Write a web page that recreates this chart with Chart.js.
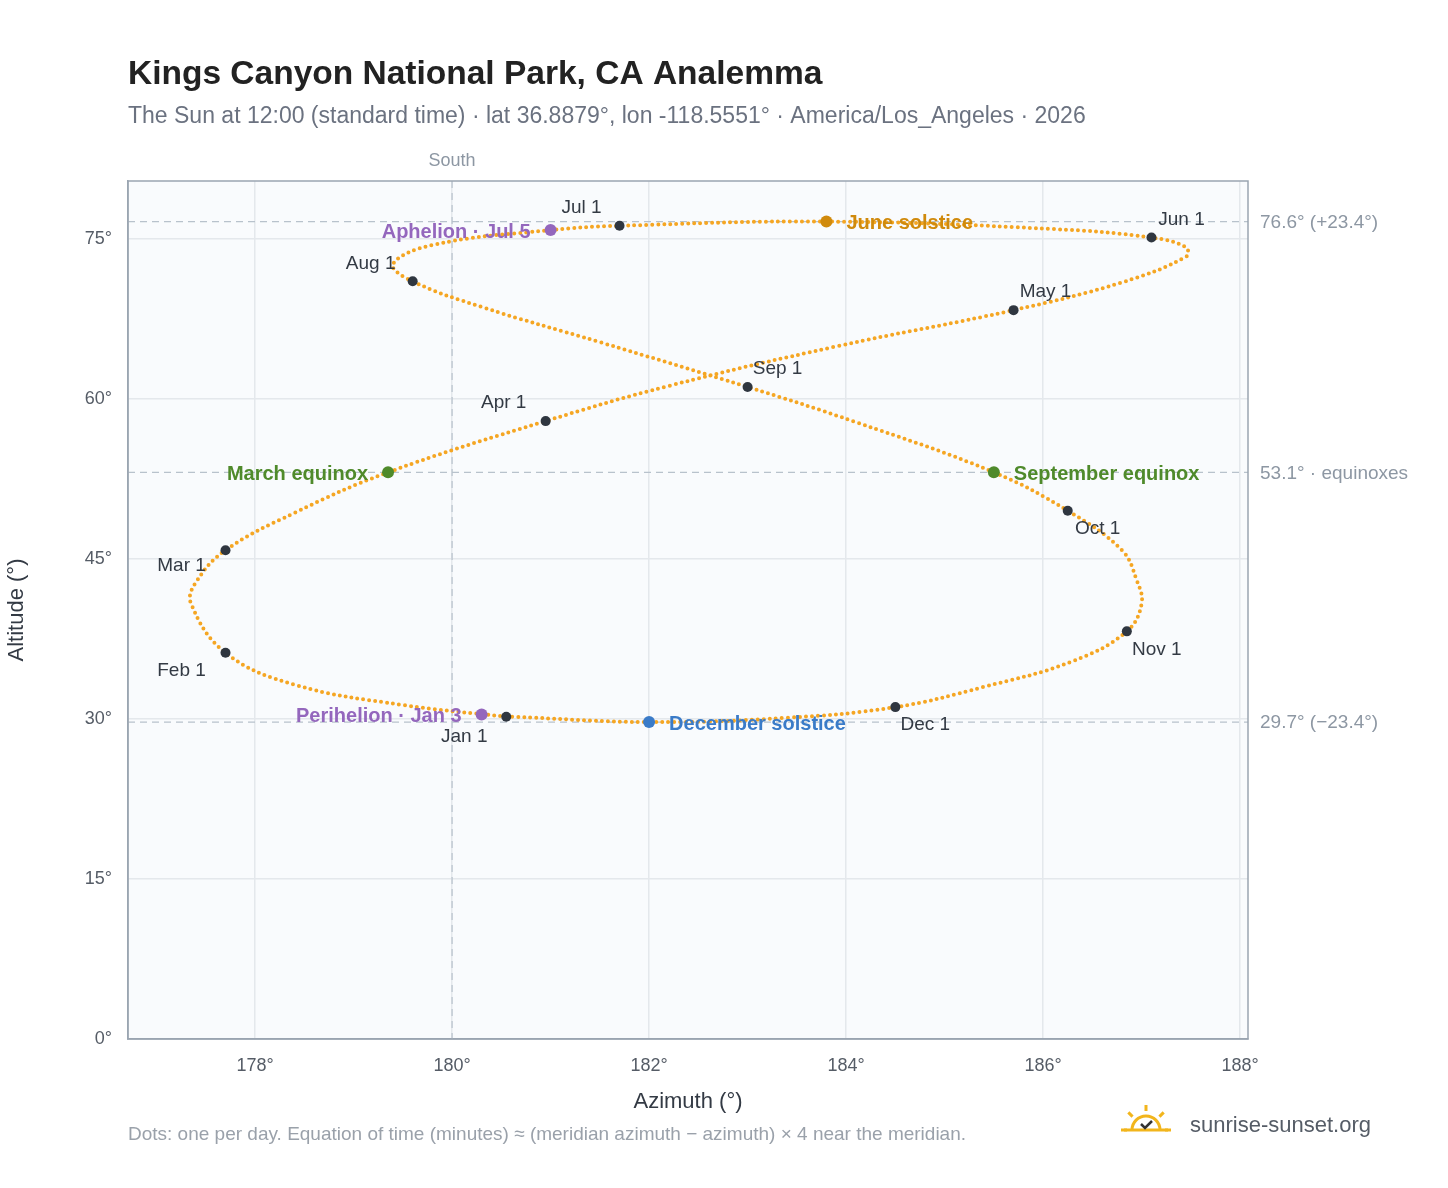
<!DOCTYPE html>
<html><head><meta charset="utf-8">
<script src="https://cdn.jsdelivr.net/npm/chart.js@4/dist/chart.umd.min.js"></script>
<style>body{margin:0;background:#fff}#wrap{position:relative;width:1448px;height:1188px}</style>
</head><body><div id="wrap"><canvas id="c" width="1448" height="1188"></canvas></div>
<script>
// sun path, roughly every 10 days
const pathAz = [180.55,179.5,178.4,177.7,177.35,177.4,177.7,178.4,179.35,180.95,182.2,183.9,185.7,186.8,187.45,187.45,187.1,186.1,183.8,181.7,181.0,179.8,179.4,179.6,180.3,181.5,183.0,184.1,185.5,186.25,186.8,186.95,187.0,186.85,186.3,185.4,184.5,183.4,182.0,180.6,180.55];
const pathAlt = [30.2,31.3,33.2,36.2,40.8,42.8,45.8,49.3,53.1,57.9,61.2,64.9,68.3,70.9,73.3,74.2,75.1,75.9,76.6,76.2,75.8,74.4,72.6,71.0,68.6,65.3,61.1,57.8,53.1,49.5,45.8,43.0,40.8,38.2,35.4,33.0,31.1,30.1,29.7,30.2,30.2];

const monthNames = ['Jan 1','Feb 1','Mar 1','Apr 1','May 1','Jun 1','Jul 1','Aug 1','Sep 1','Oct 1','Nov 1','Dec 1'];
const monthAz = [180.55,177.7,177.7,180.95,185.7,187.1,181.7,179.6,183.0,186.25,186.85,184.5];
const monthAlt = [30.2,36.2,45.8,57.9,68.3,75.1,76.2,71.0,61.1,49.5,38.2,31.1];
const monthLabelOffset = [[-42,20],[-44,18],[-44,16],[-42,-18],[18,-18],[16,-18],[-38,-18],[-42,-18],[16,-18],[16,18],[16,18],[16,18]];

const eventNames = ['March equinox','September equinox','June solstice','December solstice','Perihelion · Jan 3','Aphelion · Jul 5'];
const eventAz = [179.35,185.5,183.8,182.0,180.3,181.0];
const eventAlt = [53.1,53.1,76.6,29.7,30.4,75.8];
const eventColors = ['#4f8a2b','#4f8a2b','#d08a0c','#3a7bc8','#9467bd','#9467bd'];
const eventAlign = ['right','left','left','left','right','right'];

const refLines = [76.6,53.1,29.7];
const refLabels = ['76.6° (+23.4°)','53.1° · equinoxes','29.7° (−23.4°)'];

const F = '"Liberation Sans", Arial';

const overlay = {
  id:'overlay',
  beforeDraw(chart){
    const {ctx,chartArea:a}=chart;
    ctx.save();ctx.fillStyle='#f9fbfd';ctx.fillRect(a.left,a.top,a.right-a.left,a.bottom-a.top);ctx.restore();
  },
  beforeDatasetsDraw(chart){
    const {ctx,chartArea:a,scales:{x,y}}=chart;
    ctx.save();
    ctx.strokeStyle='#b8c2cc';ctx.lineWidth=1.2;ctx.setLineDash([7,5]);
    refLines.forEach(v=>{const py=y.getPixelForValue(v);ctx.beginPath();ctx.moveTo(a.left,py);ctx.lineTo(a.right,py);ctx.stroke();});
    const px=x.getPixelForValue(180);ctx.beginPath();ctx.moveTo(px,a.top);ctx.lineTo(px,a.bottom);ctx.stroke();
    ctx.setLineDash([]);
    ctx.strokeStyle='#9aa5b1';ctx.lineWidth=1.5;ctx.strokeRect(a.left,a.top,a.right-a.left,a.bottom-a.top);
    ctx.fillStyle='#8d97a3';ctx.font='19px '+F;ctx.textBaseline='middle';ctx.textAlign='left';
    refLines.forEach((v,i)=>ctx.fillText(refLabels[i],a.right+12,y.getPixelForValue(v)+1));
    ctx.font='18px '+F;ctx.textAlign='center';ctx.fillText('South',px,a.top-20);
    ctx.restore();
  },
  afterDatasetsDraw(chart){
    const {ctx,scales:{x,y}}=chart;
    ctx.save();ctx.textBaseline='middle';
    ctx.font='19px '+F;ctx.fillStyle='#333a44';
    monthNames.forEach((m,i)=>{
      const px=x.getPixelForValue(monthAz[i]),py=y.getPixelForValue(monthAlt[i]);
      ctx.textAlign='center';ctx.fillText(m,px+monthLabelOffset[i][0]+(monthLabelOffset[i][0]>0?14:0),py+monthLabelOffset[i][1]);
    });
    ctx.font='bold 20px '+F;
    eventNames.forEach((e,i)=>{
      const px=x.getPixelForValue(eventAz[i]),py=y.getPixelForValue(eventAlt[i]);
      ctx.fillStyle=eventColors[i];ctx.textAlign=eventAlign[i];
      ctx.fillText(e,px+(eventAlign[i]==='left'?20:-20),py+2);
    });
    // titles
    ctx.textAlign='left';ctx.textBaseline='alphabetic';
    ctx.fillStyle='#222';ctx.font='bold 33.5px '+F;ctx.fillText('Kings Canyon National Park, CA Analemma',128,84);
    ctx.fillStyle='#6b7280';ctx.font='23px '+F;
    ctx.fillText('The Sun at 12:00 (standard time) · lat 36.8879°, lon -118.5551° · America/Los_Angeles · 2026',128,123);
    ctx.fillStyle='#9aa1aa';ctx.font='19px '+F;
    ctx.fillText('Dots: one per day. Equation of time (minutes) ≈ (meridian azimuth − azimuth) × 4 near the meridian.',128,1140);
    ctx.fillStyle='#555c66';ctx.font='22px '+F;ctx.fillText('sunrise-sunset.org',1190,1132);
    // logo
    ctx.strokeStyle='#f2b51c';ctx.lineWidth=3;ctx.beginPath();ctx.arc(1146,1130,14,Math.PI,2*Math.PI);ctx.stroke();
    for(let k=0;k<5;k++){const ang=Math.PI+k*Math.PI/4;ctx.beginPath();ctx.moveTo(1146+Math.cos(ang)*19,1130+Math.sin(ang)*19);ctx.lineTo(1146+Math.cos(ang)*25,1130+Math.sin(ang)*25);ctx.stroke();}
    ctx.beginPath();ctx.moveTo(1124,1130);ctx.lineTo(1168,1130);ctx.stroke();
    ctx.strokeStyle='#333';ctx.lineWidth=2.5;ctx.beginPath();ctx.moveTo(1141,1124);ctx.lineTo(1145,1128);ctx.lineTo(1152,1121);ctx.stroke();
    ctx.restore();
  }
};

const pts=(xs,ys)=>xs.map((v,i)=>({x:v,y:ys[i]}));

new Chart(document.getElementById('c'),{
  type:'scatter',
  data:{datasets:[
    {data:pts(pathAz,pathAlt),order:3,showLine:true,tension:0.4,borderColor:'#f5a623',borderWidth:4,borderDash:[0,6],borderCapStyle:'round',pointRadius:0,fill:false},
    {data:pts(monthAz,monthAlt),order:1,pointRadius:5,pointBackgroundColor:'#2f3640',pointBorderWidth:0},
    {data:pts(eventAz,eventAlt),order:0,pointRadius:6,pointBackgroundColor:eventColors,pointBorderWidth:0}
  ]},
  options:{
    responsive:false,animation:false,
    layout:{padding:{left:0,top:181,right:200,bottom:69}},
    plugins:{legend:{display:false},tooltip:{enabled:false}},
    scales:{
      x:{type:'linear',min:176.71,max:188.08,
        afterBuildTicks(s){s.ticks=[178,180,182,184,186,188].map(v=>({value:v}));},
        afterFit(s){s.height=80;},
        grid:{color:'#e4e8ec',lineWidth:1.5,drawTicks:false},border:{color:'#9aa5b1',width:1.5},
        ticks:{color:'#555c66',font:{size:18,family:F},padding:16,callback:v=>v+'°'},
        title:{display:true,text:'Azimuth (°)',color:'#333a44',font:{size:22,family:F},padding:{top:4}}},
      y:{min:0,max:80.4,
        afterBuildTicks(s){s.ticks=[0,15,30,45,60,75].map(v=>({value:v}));},
        afterFit(s){s.width=128;},
        grid:{color:'#e4e8ec',lineWidth:1.5,drawTicks:false},border:{color:'#9aa5b1',width:1.5},
        ticks:{color:'#555c66',font:{size:18,family:F},padding:16,callback:v=>v+'°'},
        title:{display:true,text:'Altitude (°)',color:'#333a44',font:{size:22,family:F}}}
    }
  },
  plugins:[overlay]
});
</script></body></html>
